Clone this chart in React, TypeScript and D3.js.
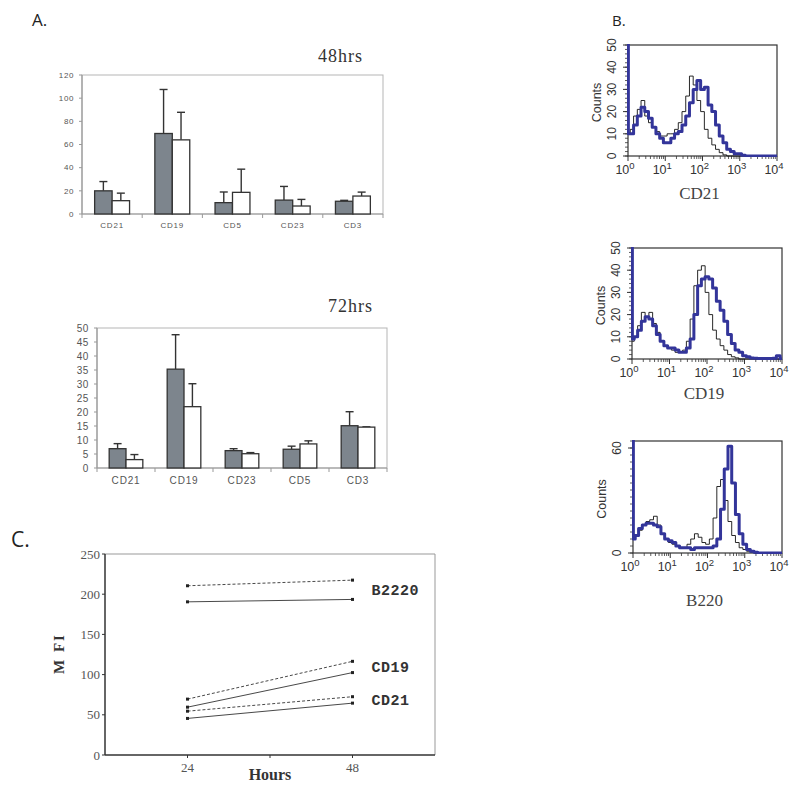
import React from "react";
import * as d3 from "d3";

const SANS = "'Liberation Sans', Arial, sans-serif";
const SERIF = "'Liberation Serif', 'Times New Roman', serif";
const MONO = "'Liberation Mono', 'Courier New', monospace";
const BLUE = "#33359a";

// --- panel A: bar charts (mean + SD) ---
const CATS_48 = ["CD21", "CD19", "CD5", "CD23", "CD3"];
const GRAY_48 = [20, 69.5, 9.8, 12, 11];
const GRAY_48_SD = [8, 38, 9.2, 11.8, 0.8];
const WHITE_48 = [11.5, 64, 18.7, 6.9, 15.5];
const WHITE_48_SD = [6.5, 23.8, 20, 5.7, 3.4];
const TICKS_48 = [0, 20, 40, 60, 80, 100, 120];

const CATS_72 = ["CD21", "CD19", "CD23", "CD5", "CD3"];
const GRAY_72 = [6.9, 35.3, 6.2, 6.7, 15.1];
const GRAY_72_SD = [1.8, 12.3, 0.7, 1.1, 5.0];
const WHITE_72 = [3.0, 21.9, 5.1, 8.6, 14.6];
const WHITE_72_SD = [1.8, 8.2, 0.4, 1.1, 0.1];
const TICKS_72 = [0, 5, 10, 15, 20, 25, 30, 35, 40, 45, 50];

// --- panel B: flow histograms, bins in log10 units ---
const LOG_BINS = [0, 0.02, 0.1, 0.2, 0.3, 0.4, 0.5, 0.6, 0.7, 0.8, 0.9, 1.0, 1.1, 1.2, 1.3, 1.4, 1.5, 1.6, 1.7, 1.8, 1.9, 2.0,
  2.1, 2.2, 2.3, 2.4, 2.5, 2.6, 2.7, 2.8, 2.9, 3.0, 3.1, 3.2, 3.3, 3.4, 3.5, 3.6, 3.7, 3.8, 3.9, 4.0];
const CD21_BLUE = [60, 10, 10, 14, 18, 22, 20, 17, 13, 10, 8, 6, 6, 8, 10, 11, 14, 18, 24, 30, 34, 30,
  31, 23, 20, 14, 9, 6, 3, 2, 1, 1, 0.3, 0, 0, 0, 0, 0, 0, 0, 0, 0];
const CD21_BLACK = [10, 10, 12, 18, 21, 25, 18, 15, 13, 11, 9, 9, 10, 10, 12, 15, 20, 27, 36, 32, 25, 20,
  12, 8, 5, 3, 1.5, 0.5, 0, 0, 0, 0, 0, 0, 0, 0, 0, 0, 0, 0, 0, 0];
const CD19_BLUE = [60, 9, 10, 13, 17, 19, 18, 15, 11, 8, 6, 5, 5, 4, 3, 3, 5, 9, 20, 33, 36, 37,
  36, 32, 26, 22, 17, 11, 7, 4, 3, 1.5, 1, 0.5, 0.3, 0.2, 0.2, 0.2, 0.2, 0.3, 1.5, 0];
const CD19_BLACK = [8, 8, 10, 15, 21, 19, 21, 16, 12, 8, 6, 5, 4, 3, 3, 4, 8, 18, 33, 40, 42, 30,
  20, 13, 9, 6, 4, 2, 1, 0.5, 0, 0, 0, 0, 0, 0, 0, 0, 0, 0, 0, 0];
const B220_BLUE = [70, 8, 10, 14, 16, 17, 17, 16, 15, 11, 8, 7, 6, 4, 3, 3, 3, 2, 3, 3, 3, 3,
  3, 4, 8, 25, 48, 61, 40, 22, 11, 5, 2, 1, 0.5, 0, 0, 0, 0, 0, 0, 0];
const B220_BLACK = [8, 8, 10, 13, 16, 18, 19, 21, 16, 11, 8, 6, 5, 4, 3, 3, 5, 8, 11, 9, 6, 5,
  8, 20, 38, 42, 30, 18, 10, 6, 3, 2, 1, 0.5, 0, 0, 0, 0, 0, 0, 0, 0];

// --- panel C: MFI over time ---
const HOURS = [24, 48];
const B220_DASH = [210.5, 217.5];
const B220_SOLID = [190.5, 193.5];
const CD19_DASH = [69.5, 116.5];
const CD19_SOLID = [59.5, 102.5];
const CD21_DASH = [54.5, 72.5];
const CD21_SOLID = [45.5, 64.5];
const MFI_TICKS = [0, 50, 100, 150, 200, 250];

function BarPanel({ left, top, right, bottom, cats, gray, graySd, white, whiteSd, ticks, fs, title, titleX, titleY }) {
  const yMax = ticks[ticks.length - 1];
  const x = d3.scaleBand().domain(cats).range([left, right]).paddingInner(0.42).paddingOuter(0.21);
  const sub = d3.scaleBand().domain(["g", "w"]).range([0, x.bandwidth()]);
  const y = d3.scaleLinear().domain([0, yMax]).range([bottom, top]);
  const step = x.step();
  const bars = [];
  cats.forEach((c, i) => {
    [["g", gray[i], graySd[i], "#7d858d"], ["w", white[i], whiteSd[i], "#fff"]].forEach(([k, v, sd, fill]) => {
      const bx = x(c) + sub(k);
      const cx = bx + sub.bandwidth() / 2;
      bars.push(
        <g key={c + k}>
          <line x1={cx} x2={cx} y1={y(v)} y2={y(v + sd)} stroke="#333" strokeWidth={1.4} />
          <line x1={cx - 4} x2={cx + 4} y1={y(v + sd)} y2={y(v + sd)} stroke="#333" strokeWidth={1.4} />
          <rect x={bx} y={y(v)} width={sub.bandwidth()} height={bottom - y(v)} fill={fill} stroke="#333" strokeWidth={1.3} />
        </g>
      );
    });
  });
  return (
    <g>
      <text x={titleX} y={titleY} fontFamily={SERIF} fontSize={18} letterSpacing={1} fill="#333">{title}</text>
      <rect x={left} y={top} width={right - left} height={bottom - top} fill="none" stroke="#b5b5b5" strokeWidth={1} />
      <line x1={left} x2={left} y1={top} y2={bottom} stroke="#999" strokeWidth={1.2} />
      <line x1={left} x2={right} y1={bottom} y2={bottom} stroke="#999" strokeWidth={1.2} />
      {ticks.map((t) => (
        <g key={t}>
          <line x1={left - 3} x2={left} y1={y(t)} y2={y(t)} stroke="#999" />
          <text x={left - 8} y={y(t)} dy="0.35em" textAnchor="end" fontFamily={SANS} fontSize={fs} letterSpacing={0.6} fill="#555">{t}</text>
        </g>
      ))}
      {d3.range(cats.length + 1).map((i) => (
        <line key={i} x1={left + i * step} x2={left + i * step} y1={bottom} y2={bottom + 4} stroke="#999" />
      ))}
      {cats.map((c) => (
        <text key={c} x={x(c) + x.bandwidth() / 2} y={bottom + fs + 6} textAnchor="middle" fontFamily={SANS} fontSize={fs} letterSpacing={0.8} fill="#555">{c}</text>
      ))}
      {bars}
    </g>
  );
}

function FlowPanel({ id, left, top, right, bottom, yMax, yMajor, yMinor, title, titleY, black, blue }) {
  const x = d3.scaleLog().domain([1, 1e4]).range([left, right]);
  const y = d3.scaleLinear().domain([0, yMax]).range([bottom, top]);
  const line = d3.line().curve(d3.curveStep);
  const pts = (vals) => LOG_BINS.map((b, i) => [x(Math.pow(10, b)), y(vals[i])]);
  const minorX = [];
  [0, 1, 2, 3].forEach((d) => d3.range(2, 10).forEach((k) => minorX.push(k * Math.pow(10, d))));
  const minorY = d3.range(0, yMax + 0.01, yMinor);
  const midY = (top + bottom) / 2 + 2;
  return (
    <g>
      <defs>
        <clipPath id={id}>
          <rect x={left - 1} y={top - 1} width={right - left + 2} height={bottom - top + 2} />
        </clipPath>
      </defs>
      <rect x={left} y={top} width={right - left} height={bottom - top} fill="#fff" stroke="#333" strokeWidth={1.2} />
      {minorX.map((v) => (
        <line key={v} x1={x(v)} x2={x(v)} y1={bottom} y2={bottom + 3} stroke="#333" strokeWidth={0.8} />
      ))}
      {[1, 10, 100, 1000, 10000].map((v, d) => (
        <g key={v}>
          <line x1={x(v)} x2={x(v)} y1={bottom} y2={bottom + 5} stroke="#333" strokeWidth={1} />
          <text x={x(v) - 3} y={bottom + 18} textAnchor="middle" fontFamily={SANS} fontSize={12.5} fill="#333">
            10<tspan dy={-5} fontSize={9.5}>{d}</tspan>
          </text>
        </g>
      ))}
      {minorY.map((v) => (
        <line key={v} x1={left - 3} x2={left} y1={y(v)} y2={y(v)} stroke="#333" strokeWidth={0.8} />
      ))}
      {yMajor.map((v) => (
        <g key={v}>
          <line x1={left - 5} x2={left} y1={y(v)} y2={y(v)} stroke="#333" strokeWidth={1} />
          <text transform={`translate(${left - 12},${y(v)}) rotate(-90)`} textAnchor="middle" fontFamily={SANS} fontSize={12} fill="#333">{v}</text>
        </g>
      ))}
      <text transform={`translate(${left - 27},${midY}) rotate(-90)`} textAnchor="middle" fontFamily={SANS} fontSize={12.5} fill="#333">Counts</text>
      <g clipPath={`url(#${id})`}>
        <path d={line(pts(black))} fill="none" stroke="#111" strokeWidth={0.9} />
        <path d={line(pts(blue))} fill="none" stroke={BLUE} strokeWidth={3} strokeLinejoin="round" />
      </g>
      <text x={(left + right) / 2 - 3} y={titleY} textAnchor="middle" fontFamily={SERIF} fontSize={17} fill="#444">{title}</text>
    </g>
  );
}

function MfiPanel() {
  const left = 105, right = 435, top = 554, bottom = 755;
  const x = d3.scaleLinear().domain([12, 60]).range([left, right]);
  const y = d3.scaleLinear().domain([0, 250]).range([bottom, top]);
  const series = [
    { vals: B220_DASH, dash: true }, { vals: B220_SOLID, dash: false },
    { vals: CD19_DASH, dash: true }, { vals: CD19_SOLID, dash: false },
    { vals: CD21_DASH, dash: true }, { vals: CD21_SOLID, dash: false },
  ];
  const labels = [
    { text: "B2220", a: B220_DASH, b: B220_SOLID },
    { text: "CD19", a: CD19_DASH, b: CD19_SOLID },
    { text: "CD21", a: CD21_DASH, b: CD21_SOLID },
  ];
  const line = d3.line().x((d, i) => x(HOURS[i])).y((d) => y(d));
  return (
    <g>
      <line x1={left} x2={right} y1={top} y2={top} stroke="#999" strokeWidth={1} />
      <line x1={right} x2={right} y1={top} y2={bottom} stroke="#999" strokeWidth={1} />
      <line x1={left} x2={left} y1={top} y2={bottom} stroke="#333" strokeWidth={1.5} />
      <line x1={left} x2={right} y1={bottom} y2={bottom} stroke="#333" strokeWidth={1.5} />
      {MFI_TICKS.map((t) => (
        <g key={t}>
          <line x1={left - 3} x2={left} y1={y(t)} y2={y(t)} stroke="#333" />
          <text x={left - 5} y={y(t)} dy="0.35em" textAnchor="end" fontFamily={SERIF} fontSize={13} fill="#555">{t}</text>
        </g>
      ))}
      {[24, 36, 48].map((t) => (
        <line key={t} x1={x(t)} x2={x(t)} y1={bottom} y2={bottom + 3} stroke="#333" />
      ))}
      {HOURS.map((h) => (
        <text key={h} x={x(h)} y={bottom + 17} textAnchor="middle" fontFamily={SERIF} fontSize={13} fill="#555">{h}</text>
      ))}
      <text x={(x(24) + x(48)) / 2} y={bottom + 25} textAnchor="middle" fontFamily={SERIF} fontWeight="bold" fontSize={16} fill="#333">Hours</text>
      <text transform={`translate(64,${(top + bottom) / 2 - 1}) rotate(-90)`} textAnchor="middle" fontFamily={SERIF} fontWeight="bold" fontSize={15} letterSpacing={2} fill="#333">M FI</text>
      {series.map((s, i) => (
        <g key={i}>
          <path d={line(s.vals)} fill="none" stroke="#333" strokeWidth={0.9} strokeDasharray={s.dash ? "3,2" : null} />
          {s.vals.map((v, j) => (
            <rect key={j} x={x(HOURS[j]) - 1.5} y={y(v) - 1.5} width={3} height={3} fill="#222" />
          ))}
        </g>
      ))}
      {labels.map((l) => (
        <text key={l.text} x={x(48) + 19} y={y((l.a[1] + l.b[1]) / 2)} dy="0.35em" fontFamily={MONO} fontWeight="bold" fontSize={15} letterSpacing={0.5} fill="#333">{l.text}</text>
      ))}
    </g>
  );
}

export default function App() {
  return (
    <svg width={800} height={786} style={{ position: "absolute", left: 0, top: 0, background: "#fff" }}>
      <rect width={800} height={786} fill="#fff" />
      <text x={32} y={26} fontFamily="'Open Sans', sans-serif" fontSize={17} fill="#222">A.</text>
      <text x={612} y={26} fontFamily="'Open Sans', sans-serif" fontSize={15} fill="#222">B.</text>
      <text x={11} y={547} fontFamily="'Open Sans', sans-serif" fontSize={21} fill="#222">C.</text>

      <BarPanel left={82} top={75} right={383} bottom={214} cats={CATS_48} gray={GRAY_48} graySd={GRAY_48_SD}
        white={WHITE_48} whiteSd={WHITE_48_SD} ticks={TICKS_48} fs={8} title="48hrs" titleX={318} titleY={62} />
      <BarPanel left={97} top={328} right={387} bottom={468} cats={CATS_72} gray={GRAY_72} graySd={GRAY_72_SD}
        white={WHITE_72} whiteSd={WHITE_72_SD} ticks={TICKS_72} fs={10} title="72hrs" titleX={328} titleY={312} />

      <FlowPanel id="cf1" left={628} top={45} right={777} bottom={156} yMax={50} yMajor={[0, 10, 20, 30, 40, 50]} yMinor={2}
        title="CD21" titleY={199} black={CD21_BLACK} blue={CD21_BLUE} />
      <FlowPanel id="cf2" left={632} top={248} right={782} bottom={359} yMax={50} yMajor={[0, 10, 20, 30, 40, 50]} yMinor={2}
        title="CD19" titleY={399} black={CD19_BLACK} blue={CD19_BLUE} />
      <FlowPanel id="cf3" left={633} top={441} right={782} bottom={553} yMax={64} yMajor={[0, 60]} yMinor={4}
        title="B220" titleY={606} black={B220_BLACK} blue={B220_BLUE} />

      <MfiPanel />
    </svg>
  );
}
